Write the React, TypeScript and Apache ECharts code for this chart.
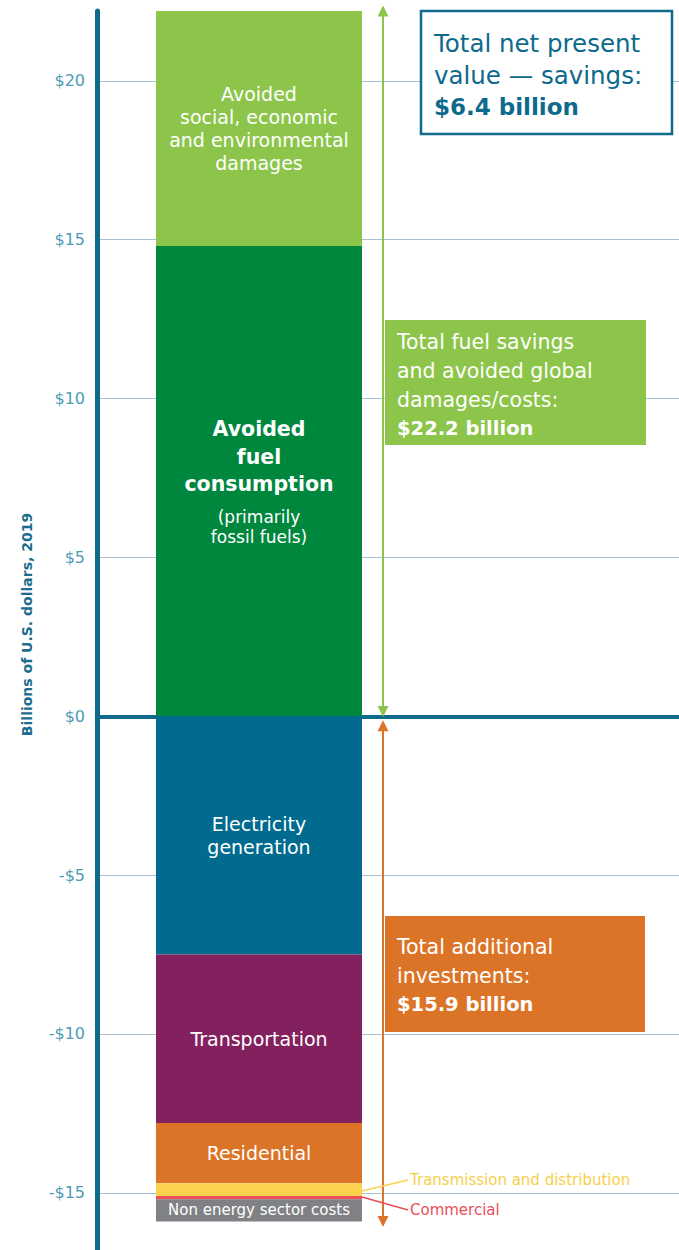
import React, { useEffect, useRef } from 'react';
import * as echarts from 'echarts';

// ---------- data ----------
const CATEGORY = ['Net present value'];
const Y_TICKS = [-15, -10, -5, 0, 5, 10, 15, 20];
const Y_MIN = -16.8;
const Y_MAX = 22.2;

const SAVINGS_NAMES = ['Avoided fuel consumption', 'Avoided social, economic and environmental damages'];
const SAVINGS_VALUES = [14.8, 7.4];

const COST_NAMES = [
  'Electricity generation',
  'Transportation',
  'Residential',
  'Transmission and distribution',
  'Commercial',
  'Non energy sector costs',
];
const COST_VALUES = [-7.5, -5.3, -1.9, -0.4, -0.1, -0.7];

const TOTAL_SAVINGS = 22.2;
const TOTAL_COSTS = 15.9;
const NET_VALUE = 6.4;

const AXIS_TITLE = 'Billions of U.S. dollars, 2019';

// ---------- styles ----------
const FONT = '"DejaVu Sans", sans-serif';
const SAVINGS_COLORS = ['#00873e', '#8cc54a'];
const COST_COLORS = ['#006b8e', '#83215f', '#dc7428', '#fbd24e', '#e9505a', '#808184'];
const AXIS_COLOR = '#0f6a8b';
const TICK_COLOR = '#4e9bb6';
const GRID_COLOR = '#a8c2d4';
const LIGHT_GREEN = '#8cc54a';
const ORANGE = '#dc7428';

const fmtDollar = (v: number) => (v < 0 ? '-$' + Math.abs(v) : '$' + v);

export default function App() {
  const ref = useRef<HTMLDivElement>(null);

  useEffect(() => {
    document.body.style.margin = '0';
    if (!ref.current) return;
    const chart = echarts.init(ref.current, undefined, { renderer: 'svg' });

    const whiteLabel = (formatter: string, fontSize = 19, lineHeight = 23) => ({
      show: formatter !== '',
      position: 'inside',
      formatter,
      color: '#fff',
      fontFamily: FONT,
      fontSize,
      lineHeight,
    });

    const savingsLabels = [
      {
        show: true,
        position: 'inside',
        formatter: '{b|Avoided}\n{b|fuel}\n{b|consumption}\n{g| }\n{s|(primarily}\n{s|fossil fuels)}',
        rich: {
          b: { fontSize: 20.5, fontWeight: 'bold', lineHeight: 27.5, color: '#fff', fontFamily: FONT },
          g: { fontSize: 4, lineHeight: 9, color: '#fff', fontFamily: FONT },
          s: { fontSize: 17, lineHeight: 20, color: '#fff', fontFamily: FONT },
        },
      },
      whiteLabel('Avoided\nsocial, economic\nand environmental\ndamages', 19, 23),
    ];
    const costLabels = [
      whiteLabel('Electricity\ngeneration', 19, 23),
      whiteLabel('Transportation', 19, 23),
      whiteLabel('Residential', 19, 23),
      whiteLabel(''),
      whiteLabel(''),
      whiteLabel('Non energy sector costs', 15, 18),
    ];

    const barSeries = [
      ...SAVINGS_NAMES.map((name, i) => ({
        name,
        type: 'bar',
        xAxisIndex: 1,
        yAxisIndex: 1,
        stack: 'npv',
        barWidth: 206,
        data: [SAVINGS_VALUES[i]],
        itemStyle: { color: SAVINGS_COLORS[i] },
        label: savingsLabels[i],
      })),
      ...COST_NAMES.map((name, i) => ({
        name,
        type: 'bar',
        xAxisIndex: 1,
        yAxisIndex: 1,
        stack: 'npv',
        barWidth: 206,
        data: [COST_VALUES[i]],
        itemStyle: { color: COST_COLORS[i] },
        label: costLabels[i],
      })),
    ];

    const arrowSeries = {
      type: 'line',
      xAxisIndex: 1,
      yAxisIndex: 1,
      data: [],
      silent: true,
      z: 5,
      markLine: {
        silent: true,
        symbol: ['triangle', 'triangle'],
        symbolSize: [11, 11],
        label: { show: false },
        emphasis: { disabled: true },
        data: [
          [
            { x: 383, yAxis: TOTAL_SAVINGS, lineStyle: { color: LIGHT_GREEN, width: 2, type: 'solid' } },
            { x: 383, yAxis: 0.15 },
          ],
          [
            { x: 383, yAxis: -0.3, lineStyle: { color: ORANGE, width: 2, type: 'solid' } },
            { x: 383, yAxis: -TOTAL_COSTS },
          ],
        ],
      },
    };

    const option: any = {
      animation: false,
      grid: [
        { left: 97, right: 0, top: 11, height: 1241 },
        { left: 97, width: 324, top: 11, height: 1241 },
      ],
      xAxis: [
        {
          gridIndex: 0,
          type: 'category',
          data: [''],
          axisLine: { show: true, onZero: true, lineStyle: { color: AXIS_COLOR, width: 4 } },
          axisTick: { show: false },
          axisLabel: { show: false },
          splitLine: { show: false },
        },
        {
          gridIndex: 1,
          type: 'category',
          data: CATEGORY,
          show: false,
        },
      ],
      yAxis: [
        {
          gridIndex: 0,
          type: 'value',
          min: Y_MIN,
          max: Y_MAX,
          name: AXIS_TITLE,
          nameLocation: 'middle',
          nameGap: 63,
          nameTextStyle: {
            color: '#1b6d8e',
            fontWeight: 'bold',
            fontSize: 14,
            fontFamily: FONT,
            padding: [0, 0, 0, 12],
          },
          axisLine: { show: true, lineStyle: { color: AXIS_COLOR, width: 5 } },
          axisTick: { show: false, customValues: Y_TICKS },
          axisLabel: {
            customValues: Y_TICKS,
            formatter: (v: number) => fmtDollar(v),
            color: TICK_COLOR,
            fontSize: 16,
            fontFamily: FONT,
            margin: 12,
          },
          splitLine: { show: true, lineStyle: { color: GRID_COLOR, width: 1 } },
        },
        {
          gridIndex: 1,
          type: 'value',
          min: Y_MIN,
          max: Y_MAX,
          show: false,
          splitLine: { show: false },
        },
      ],
      series: [...barSeries, arrowSeries],
      graphic: [
        // Net present value box
        {
          type: 'rect',
          shape: { x: 421, y: 11, width: 251, height: 123 },
          style: { fill: '#fff', stroke: AXIS_COLOR, lineWidth: 2.5 },
          z: 10,
        },
        {
          type: 'text',
          x: 434,
          y: 27,
          z: 11,
          style: {
            text: '{a|Total net present}\n{a|value \u2014 savings:}\n{b|$' + NET_VALUE + ' billion}',
            rich: {
              a: { fontSize: 24.5, lineHeight: 32.5, fill: '#0c6a8c', fontFamily: FONT },
              b: { fontSize: 23, lineHeight: 29, fill: '#0c6a8c', fontWeight: 'bold', fontFamily: FONT },
            },
            verticalAlign: 'top',
          },
        },
        // fuel savings box
        {
          type: 'rect',
          shape: { x: 385, y: 320, width: 261, height: 125 },
          style: { fill: LIGHT_GREEN },
          z: 10,
        },
        {
          type: 'text',
          x: 397,
          y: 327,
          z: 11,
          style: {
            text:
              '{a|Total fuel savings}\n{a|and avoided global}\n{a|damages/costs:}\n{b|$' +
              TOTAL_SAVINGS +
              ' billion}',
            rich: {
              a: { fontSize: 20.5, lineHeight: 29, fill: '#fff', fontFamily: FONT },
              b: { fontSize: 19.5, lineHeight: 29, fill: '#fff', fontWeight: 'bold', fontFamily: FONT },
            },
            verticalAlign: 'top',
          },
        },
        // investments box
        {
          type: 'rect',
          shape: { x: 385, y: 916, width: 260, height: 116 },
          style: { fill: ORANGE },
          z: 10,
        },
        {
          type: 'text',
          x: 397,
          y: 933,
          z: 11,
          style: {
            text: '{a|Total additional}\n{a|investments:}\n{b|$' + TOTAL_COSTS + ' billion}',
            rich: {
              a: { fontSize: 20.5, lineHeight: 28.5, fill: '#fff', fontFamily: FONT },
              b: { fontSize: 19.5, lineHeight: 28.5, fill: '#fff', fontWeight: 'bold', fontFamily: FONT },
            },
            verticalAlign: 'top',
          },
        },
        // leader lines
        {
          type: 'line',
          shape: { x1: 362, y1: 1191, x2: 408, y2: 1180 },
          style: { stroke: '#fbd24e', lineWidth: 1.5 },
          z: 10,
        },
        {
          type: 'text',
          x: 410,
          y: 1180,
          z: 11,
          style: {
            text: COST_NAMES[3],
            fill: '#f6cf4a',
            fontSize: 15,
            fontFamily: FONT,
            verticalAlign: 'middle',
          },
        },
        {
          type: 'line',
          shape: { x1: 362, y1: 1197, x2: 408, y2: 1210 },
          style: { stroke: '#e9505a', lineWidth: 1.5 },
          z: 10,
        },
        {
          type: 'text',
          x: 410,
          y: 1210,
          z: 11,
          style: {
            text: COST_NAMES[4],
            fill: '#e9505a',
            fontSize: 15,
            fontFamily: FONT,
            verticalAlign: 'middle',
          },
        },
      ],
    };

    chart.setOption(option);
    return () => chart.dispose();
  }, []);

  return <div ref={ref} style={{ width: 679, height: 1250 }} />;
}
